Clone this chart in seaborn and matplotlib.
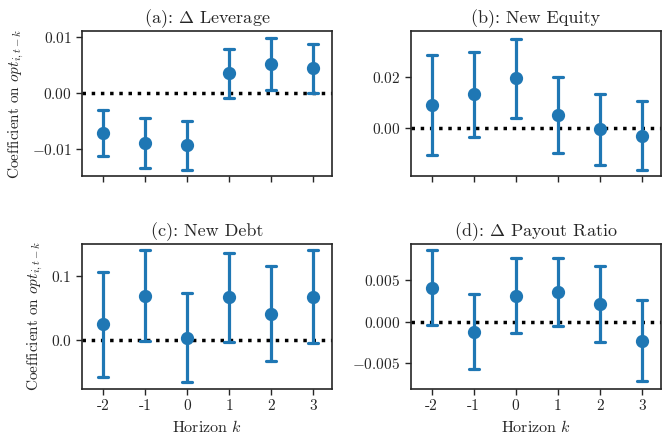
import numpy as np
import pandas as pd
import matplotlib.pyplot as plt
import seaborn as sns

horizon = [-2, -1, 0, 1, 2, 3]
tick_labels = ["-2", "-1", "0", "1", "2", "3"]

# point estimates and confidence bounds
lev_coef = [-0.0071, -0.0089, -0.0093, 0.0036, 0.0052, 0.0045]
lev_lo = [-0.0113, -0.0134, -0.0137, -0.0009, 0.0005, 0.0001]
lev_hi = [-0.0030, -0.0045, -0.0050, 0.0080, 0.0098, 0.0088]

eq_coef = [0.0091, 0.0133, 0.0196, 0.0052, -0.0004, -0.0031]
eq_lo = [-0.0106, -0.0036, 0.0039, -0.0098, -0.0143, -0.0165]
eq_hi = [0.0288, 0.0300, 0.0350, 0.0201, 0.0134, 0.0106]

debt_coef = [0.0255, 0.069, 0.004, 0.067, 0.041, 0.068]
debt_lo = [-0.057, -0.002, -0.065, -0.003, -0.032, -0.004]
debt_hi = [0.107, 0.140, 0.073, 0.136, 0.115, 0.140]

pay_coef = [0.0041, -0.0012, 0.0031, 0.0036, 0.0021, -0.0023]
pay_lo = [-0.0004, -0.0057, -0.0014, -0.0005, -0.0024, -0.0072]
pay_hi = [0.0087, 0.0033, 0.0077, 0.0077, 0.0067, 0.0026]

titles = ["(a): $\\Delta$ Leverage", "(b): New Equity",
          "(c): New Debt", "(d): $\\Delta$ Payout Ratio"]
ylims = [(-0.0148, 0.0111), (-0.0188, 0.038), (-0.076, 0.15), (-0.0081, 0.0094)]
yticks = [[-0.01, 0.0, 0.01], [0.0, 0.02], [0.0, 0.1], [-0.005, 0.0, 0.005]]
panels = [(lev_coef, lev_lo, lev_hi), (eq_coef, eq_lo, eq_hi),
          (debt_coef, debt_lo, debt_hi), (pay_coef, pay_lo, pay_hi)]

sns.set_style("ticks")
plt.rcParams["font.family"] = "serif"
plt.rcParams["font.serif"] = ["cmr10"]
plt.rcParams["mathtext.fontset"] = "cm"
plt.rcParams["axes.formatter.use_mathtext"] = True
plt.rcParams["axes.unicode_minus"] = True

fig, axes = plt.subplots(2, 2, figsize=(6.62, 4.33), dpi=100, sharex=True)
fig.subplots_adjust(left=0.124, right=0.998, top=0.928, bottom=0.102,
                    wspace=0.313, hspace=0.469)

for i, ax in enumerate(axes.flat):
    coef, lo, hi = panels[i]
    # three rows per horizon: median gives the estimate, full range gives the CI
    df = pd.DataFrame({"k": horizon * 3, "val": list(lo) + list(coef) + list(hi)})
    ax.axhline(0, color="black", linestyle=":", linewidth=2.5, zorder=1)
    sns.pointplot(data=df, x="k", y="val", ax=ax, native_scale=True,
                  estimator="median", errorbar=("pi", 100), color="#1f77b4",
                  linestyle="none", marker="o", markersize=7.5, capsize=0.24,
                  err_kws={"linewidth": 2.3})
    ax.set_title(titles[i], fontsize=13)
    ax.set_xlim(-2.5, 3.45)
    ax.set_ylim(*ylims[i])
    ax.set_yticks(yticks[i])
    ax.set_xticks(horizon)
    ax.set_xticklabels(tick_labels)
    ax.set_xlabel("Horizon $k$", fontsize=11.5)
    ax.set_ylabel("Coefficient on $opt_{i,t-k}$" if i % 2 == 0 else "", fontsize=11)
    ax.tick_params(labelsize=11, length=4, width=1)
    ax.tick_params(axis="x", labelbottom=(i >= 2))
    for sp in ax.spines.values():
        sp.set_visible(True)
        sp.set_color("#262626")
        sp.set_linewidth(1.2)

fig.savefig("out.png", dpi=100)
